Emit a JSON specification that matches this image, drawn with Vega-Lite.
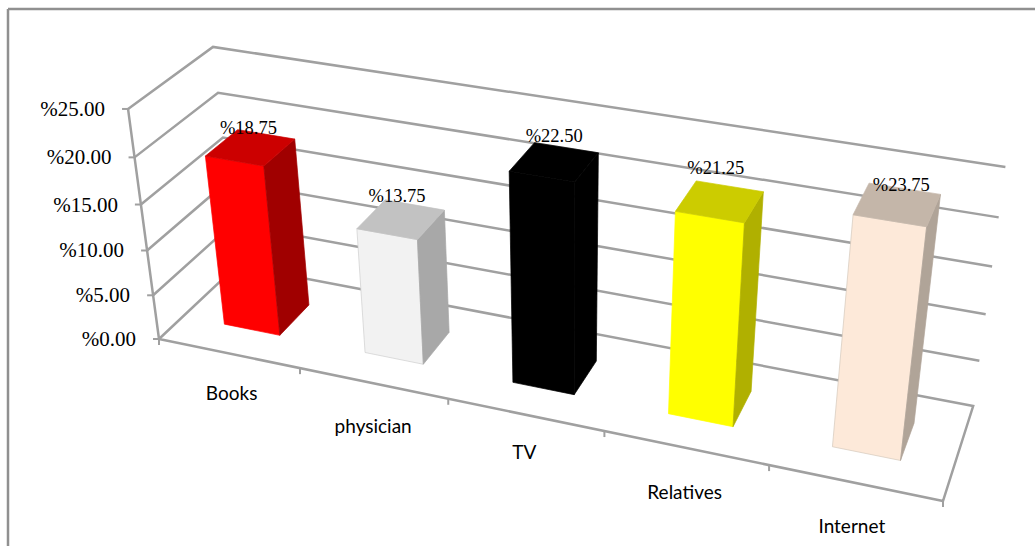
{
  "$schema": "https://vega.github.io/schema/vega-lite/v6.json",
  "width": 1035,
  "height": 546,
  "autosize": {"type": "none"},
  "padding": 0,
  "background": "#ffffff",
  "view": {"stroke": null},
  "datasets": {
    "sources": [
      {"category": "Books", "value": 18.75},
      {"category": "physician", "value": 13.75},
      {"category": "TV", "value": 22.5},
      {"category": "Relatives", "value": 21.25},
      {"category": "Internet", "value": 23.75}
    ],
    "levels": [{"share": 0}, {"share": 5}, {"share": 10}, {"share": 15}, {"share": 20}, {"share": 25}],
    "boundaries": [{"slot": 0}, {"slot": 1}, {"slot": 2}, {"slot": 3}, {"slot": 4}, {"slot": 5}],
    "frame": [{"edge": "outer"}]
  },
  "encoding": {
    "x": {"field": "px", "type": "quantitative", "axis": null, "scale": {"domain": [0, 1035], "nice": false, "zero": false}},
    "y": {"field": "py", "type": "quantitative", "axis": null, "scale": {"domain": [546, 0], "nice": false, "zero": false}}
  },
  "layer": [
    {
      "data": {"name": "frame"},
      "transform": [
        {"calculate": "8", "as": "px"},
        {"calculate": "9", "as": "py"},
        {"calculate": "546", "as": "bottom"},
        {"calculate": "1035", "as": "side"}
      ],
      "layer": [
        {
          "mark": {"type": "rule", "stroke": "#909090", "strokeWidth": 2.5},
          "encoding": {"y2": {"field": "bottom"}}
        },
        {
          "mark": {"type": "rule", "stroke": "#909090", "strokeWidth": 2.5},
          "encoding": {"x2": {"field": "side"}}
        }
      ]
    },
    {
      "data": {"name": "levels"},
      "transform": [
        {"calculate": "datum.share == 0 ? [0,0,1,1,0] : [0,0,1]", "as": "ss"},
        {"calculate": "datum.share == 0 ? [0,1,1,0,0] : [0,1,1]", "as": "ds"},
        {"calculate": "datum.share == 0 ? [0,1,2,3,4] : [0,1,2]", "as": "step"},
        {"flatten": ["ss", "ds", "step"]},
        {"calculate": "datum.ss", "as": "s"},
        {"calculate": "datum.ds", "as": "d"},
        {"calculate": "datum.share / 25", "as": "z"},
        {"calculate": "1 - 0.123 * datum.s + 0.07 * datum.d - 0.062 * datum.z", "as": "w"},
        {"calculate": "(159 + 668 * datum.s + 94.6 * datum.d - 38.9 * datum.z) / datum.w + 8 * datum.s * datum.z", "as": "px"},
        {"calculate": "(339 + 100.4 * datum.s - 54.9 * datum.d - 236.8 * datum.z) / datum.w", "as": "py"}
      ],
      "mark": {"type": "line", "stroke": "#a0a0a0", "strokeWidth": 2.5, "strokeJoin": "miter"},
      "encoding": {"detail": {"field": "share"}, "order": {"field": "step", "type": "quantitative"}}
    },
    {
      "data": {"name": "levels"},
      "transform": [
        {"calculate": "datum.share / 25", "as": "z"},
        {"calculate": "1 - 0.062 * datum.z", "as": "w"},
        {"calculate": "(159 - 38.9 * datum.z) / datum.w", "as": "px"},
        {"calculate": "(339 - 236.8 * datum.z) / datum.w", "as": "py"},
        {"calculate": "datum.px - 6", "as": "tickEnd"},
        {"calculate": "'%' + format(datum.share, '.2f')", "as": "label"}
      ],
      "layer": [
        {
          "mark": {"type": "line", "stroke": "#a0a0a0", "strokeWidth": 2.5},
          "encoding": {"order": {"field": "share", "type": "quantitative"}}
        },
        {
          "mark": {"type": "rule", "stroke": "#a0a0a0", "strokeWidth": 2},
          "encoding": {"x2": {"field": "tickEnd"}}
        },
        {
          "mark": {"type": "text", "align": "right", "baseline": "middle", "dx": -23, "dy": 1, "font": "Liberation Serif", "fontSize": 21, "fill": "#000000"},
          "encoding": {"text": {"field": "label"}}
        }
      ]
    },
    {
      "data": {"name": "boundaries"},
      "transform": [
        {"calculate": "datum.slot / 5", "as": "s"},
        {"calculate": "1 - 0.123 * datum.s", "as": "w"},
        {"calculate": "(159 + 668 * datum.s) / datum.w", "as": "px"},
        {"calculate": "(339 + 100.4 * datum.s) / datum.w", "as": "py"},
        {"calculate": "datum.py + 6", "as": "tickEnd"}
      ],
      "mark": {"type": "rule", "stroke": "#a0a0a0", "strokeWidth": 2},
      "encoding": {"y2": {"field": "tickEnd"}}
    },
    {
      "data": {"name": "sources"},
      "transform": [
        {"calculate": "indexof(['Books','physician','TV','Relatives','Internet'], datum.category)", "as": "i"},
        {"calculate": "['front','front','front','front','side','side','side','side','top','top','top','top']", "as": "face"},
        {"calculate": "[0,1,1,0, 1,1,1,1, 0,1,1,0]", "as": "right"},
        {"calculate": "[0,0,0,0, 0,1,1,0, 0,0,1,1]", "as": "back"},
        {"calculate": "[1,1,0,0, 1,1,0,0, 1,1,1,1]", "as": "raised"},
        {"calculate": "[0,1,2,3, 0,1,2,3, 0,1,2,3]", "as": "step"},
        {"flatten": ["face", "right", "back", "raised", "step"]},
        {"calculate": "(datum.i + 0.5) / 5 + (datum.right - 0.5) * 0.08", "as": "s"},
        {"calculate": "0.3 + 0.4 * datum.back", "as": "d"},
        {"calculate": "datum.raised * datum.value / 25", "as": "z"},
        {"calculate": "1 - 0.123 * datum.s + 0.07 * datum.d - 0.062 * datum.z", "as": "w"},
        {"calculate": "(159 + 668 * datum.s + 94.6 * datum.d - 38.9 * datum.z) / datum.w + 8 * datum.s * datum.z", "as": "px"},
        {"calculate": "(339 + 100.4 * datum.s - 54.9 * datum.d - 236.8 * datum.z) / datum.w", "as": "py"},
        {"calculate": "datum.category + ' ' + datum.face", "as": "faceKey"}
      ],
      "mark": {"type": "line", "interpolate": "linear-closed", "strokeWidth": 0.7},
      "encoding": {
        "fill": {
          "field": "faceKey",
          "type": "nominal",
          "legend": null,
          "scale": {
            "domain": ["Books front", "Books side", "Books top", "physician front", "physician side", "physician top", "TV front", "TV side", "TV top", "Relatives front", "Relatives side", "Relatives top", "Internet front", "Internet side", "Internet top"],
            "range": ["#ff0000", "#a00000", "#cc0000", "#f2f2f2", "#a8a8a8", "#c2c2c2", "#000000", "#000000", "#000000", "#ffff00", "#b0b000", "#cccc00", "#fde9d9", "#b0a498", "#c4b6a9"]
          }
        },
        "stroke": {
          "field": "faceKey",
          "type": "nominal",
          "legend": null,
          "scale": {
            "domain": ["Books front", "Books side", "Books top", "physician front", "physician side", "physician top", "TV front", "TV side", "TV top", "Relatives front", "Relatives side", "Relatives top", "Internet front", "Internet side", "Internet top"],
            "range": ["#ff0000", "#a00000", "#cc0000", "#cfcfcf", "#a8a8a8", "#c2c2c2", "#000000", "#000000", "#000000", "#ffff00", "#b0b000", "#cccc00", "#d4c8bc", "#b0a498", "#c4b6a9"]
          }
        },
        "order": {"field": "step", "type": "quantitative"}
      }
    },
    {
      "data": {"name": "sources"},
      "transform": [
        {"calculate": "indexof(['Books','physician','TV','Relatives','Internet'], datum.category)", "as": "i"},
        {"calculate": "(datum.i + 0.5) / 5", "as": "s"},
        {"calculate": "datum.value / 25", "as": "z"},
        {"calculate": "1 - 0.123 * datum.s + 0.035 - 0.062 * datum.z", "as": "w"},
        {"calculate": "(159 + 668 * datum.s + 47.3 - 38.9 * datum.z) / datum.w + 8 * datum.s * datum.z + [-2, -4, 0, -4, 4][datum.i]", "as": "px"},
        {"calculate": "(339 + 100.4 * datum.s - 27.45 - 236.8 * datum.z) / datum.w + [0, -3, -6, -13, 1][datum.i]", "as": "py"},
        {"calculate": "'%' + format(datum.value, '.2f')", "as": "label"}
      ],
      "mark": {"type": "text", "dy": -20, "baseline": "middle", "font": "Liberation Serif", "fontSize": 18.5, "fill": "#000000"},
      "encoding": {"text": {"field": "label"}}
    },
    {
      "data": {"name": "sources"},
      "transform": [
        {"calculate": "indexof(['Books','physician','TV','Relatives','Internet'], datum.category)", "as": "i"},
        {"calculate": "(datum.i + 0.5) / 5", "as": "s"},
        {"calculate": "1 - 0.123 * datum.s", "as": "w"},
        {"calculate": "(159 + 668 * datum.s) / datum.w + [3, 0, -1, -1, -3][datum.i]", "as": "px"},
        {"calculate": "(339 + 100.4 * datum.s) / datum.w + [41, 44, 38, 45, 44][datum.i]", "as": "py"}
      ],
      "mark": {"type": "text", "baseline": "middle", "font": "Lato", "fontSize": 19, "fill": "#000000"},
      "encoding": {"text": {"field": "category"}}
    }
  ]
}
